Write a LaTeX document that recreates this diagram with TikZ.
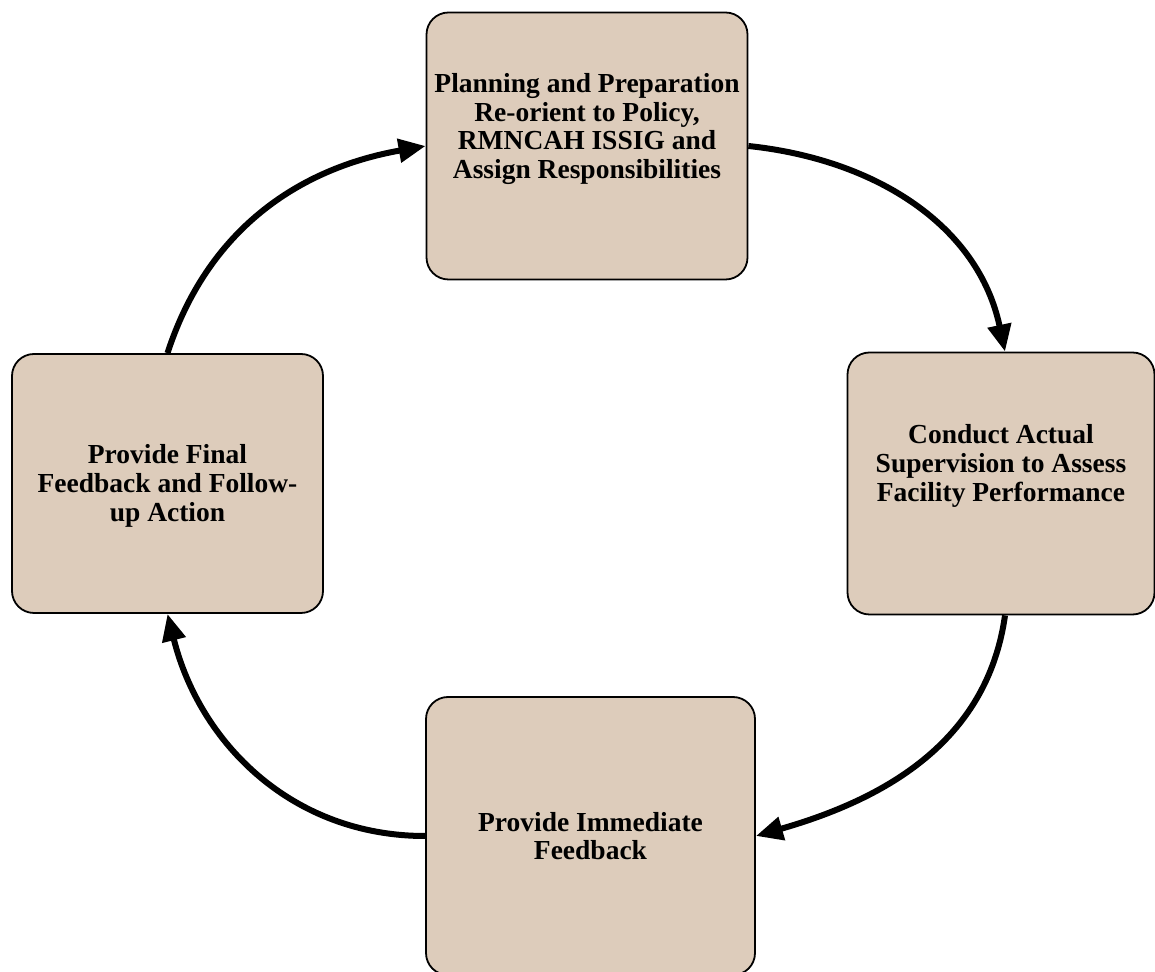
\documentclass[tikz,border=0pt]{standalone}
\usepackage{fontspec}
\setmainfont{Liberation Serif}
\usetikzlibrary{arrows.meta}
\definecolor{boxfill}{RGB}{221,204,187}
\begin{document}
\begin{tikzpicture}[x=1pt,y=1pt,
  box/.style={draw=black, line width=1.8pt, fill=boxfill, rounded corners=22pt, inner sep=0pt},
  lbl/.style={align=center, font=\fontsize{27.5}{28.8}\selectfont\bfseries, inner sep=0pt},
  flow/.style={line width=6pt, -{Triangle[length=27pt,width=23pt]}}
]
\useasboundingbox[fill=white] (0,0) rectangle (1155,971);

\node[box, minimum width=321pt, minimum height=267pt] (top) at (587,825) {};
\node[box, minimum width=307pt, minimum height=262pt] (right) at (1001,487.5) {};
\node[box, minimum width=311pt, minimum height=259pt] (left) at (167.5,487.5) {};
\node[box, minimum width=329pt, minimum height=278pt] (bottom) at (590.5,135) {};

\node[lbl] (toptext) at (587,842) {Planning and Preparation\\Re-orient to Policy,\\RMNCAH ISSIG and\\Assign Responsibilities};
\node[lbl] (righttext) at (1001,505) {Conduct Actual\\Supervision to Assess\\Facility Performance};
\node[lbl] (lefttext) at (167.5,485) {Provide Final\\Feedback and Follow-\\up Action};
\node[lbl] (bottomtext) at (590.5,135) {Provide Immediate\\Feedback};

\draw[flow] (left.north) to[out=72, in=190] (top.west);
\draw[flow] (top.east) to[out=-6, in=102] ([xshift=4pt]right.north);
\draw[flow] ([xshift=4pt]right.south) to[out=262, in=16] (bottom.east);
\draw[flow] (bottom.west) to[out=180, in=-76] (left.south);
\end{tikzpicture}
\end{document}
